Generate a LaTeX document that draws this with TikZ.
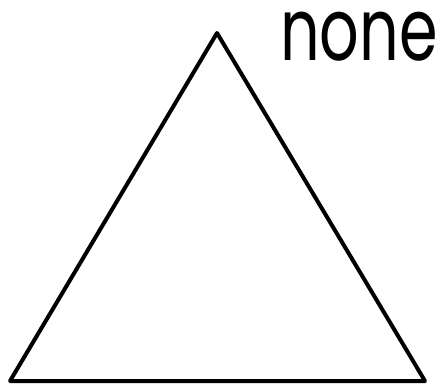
\documentclass[tikz,border=0pt]{standalone}
\usepackage{fontspec}
\setmainfont{Poppins}
\usepackage{graphicx}
\usepackage{tikz}
\usetikzlibrary{positioning}

\begin{document}
\begin{tikzpicture}[
  x=1pt, y=-1pt,
  edge/.style={line width=4pt, line join=round, line cap=round},
  label/.style={font=\fontsize{62}{62}\selectfont, inner sep=0pt}
]

% Frame
\useasboundingbox (0, 0) rectangle (448, 386);

% Triangle
\coordinate (apex) at (217, 33);
\coordinate (bl) at (10, 381);
\coordinate (br) at (425, 381);
\draw[edge] (apex) -- (br) -- (bl) -- cycle;

% Label
\node[label] (word) at (359, 37) {\scalebox{1}[1.4]{none}};

\end{tikzpicture}
\end{document}
